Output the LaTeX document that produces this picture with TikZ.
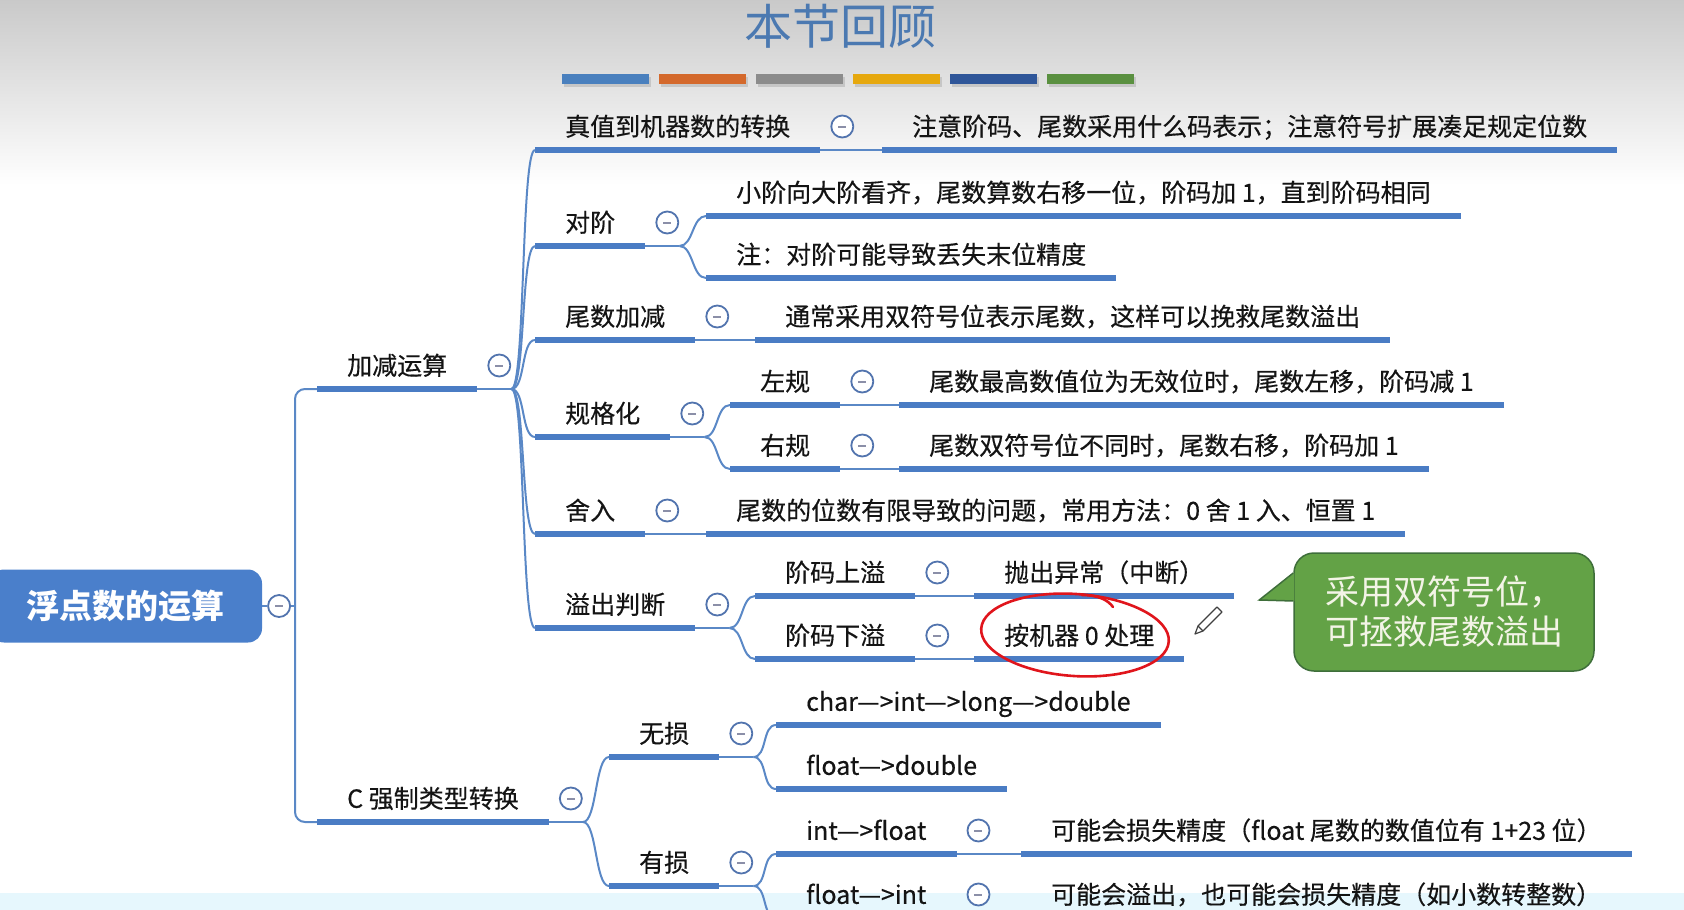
\documentclass[tikz,border=0pt]{standalone}
\usepackage{fontspec}
\setmainfont{Noto Sans CJK SC}
\newfontfamily\mapfont{Noto Sans CJK SC}[FakeBold=0.4]
\usetikzlibrary{positioning,calc}

\definecolor{mapblue}{HTML}{4A7CC4}
\definecolor{linkblue}{HTML}{5A88C6}
\definecolor{rootblue}{HTML}{4A7FCB}
\definecolor{foldring}{HTML}{5274AE}
\definecolor{foldbar}{HTML}{8B8FA8}
\definecolor{titleblue}{HTML}{4B79B1}
\definecolor{notegreen}{HTML}{63A246}
\definecolor{noteedge}{HTML}{3E6E3A}
\definecolor{notetext}{HTML}{F3F4E6}
\definecolor{markred}{HTML}{E0151C}
\definecolor{barblue}{HTML}{4A80BE}
\definecolor{barorange}{HTML}{D4692C}
\definecolor{bargray}{HTML}{8C8C8C}
\definecolor{bargold}{HTML}{E6A80E}
\definecolor{barnavy}{HTML}{2F5699}
\definecolor{bargreen}{HTML}{5A9040}

\begin{document}
\begin{tikzpicture}[
  x=1pt, y=-1pt,
  uline/.style={draw=mapblue, line width=5.5pt},
  link/.style={draw=linkblue, line width=2pt},
  topic/.style={anchor=south west, inner xsep=30pt, inner ysep=8pt,
    text height=20pt, text depth=6pt, text=black!92,
    font=\mapfont\fontsize{25}{30}\selectfont,
    append after command={(\tikzlastnode.south west) edge[uline] (\tikzlastnode.south east)}},
  fold/.style={circle, draw=foldring, fill=white, line width=1.8pt,
    minimum size=22pt, inner sep=0pt,
    path picture={\draw[line width=2pt, draw=foldbar]
      ([xshift=-4pt]path picture bounding box.center) --
      ([xshift=4pt]path picture bounding box.center);}},
  rootbox/.style={fill=rootblue, rounded corners=14pt, minimum width=272pt,
    minimum height=73pt, text=white,
    font=\fontsize{33}{40}\selectfont\bfseries},
  notebox/.style={fill=notegreen, draw=noteedge, line width=1.5pt,
    rounded corners=20pt, minimum width=300pt, minimum height=118pt,
    text=notetext, align=left, font=\fontsize{34}{40}\selectfont}
]
\useasboundingbox (0,0) rectangle (1684,910);
\clip (0,0) rectangle (1684,910);

% background
\shade[top color=gray!42, bottom color=white] (0,0) rectangle (1684,185);
\fill[cyan!10] (0,893) rectangle (1684,910);

% title and colour bars
\node[font=\fontsize{48}{52}\selectfont, text=titleblue] (title) at (840,26) {本节回顾};
\foreach \c [count=\i from 0] in {barblue,barorange,bargray,bargold,barnavy,bargreen}{
  \fill[gray!45] ({564+97*\i},77) rectangle ++(87,10);
  \fill[\c] ({562+97*\i},74) rectangle ++(87,10);
}

% root
\node[rootbox] (root) at (126,606) {浮点数的运算};
\node[fold, right=5pt of root] (rootF) {};
\coordinate (trunk) at (295,606);

% first level
\node[topic] (jiajian) at (317,389) {加减运算};
\node[topic] (ctype) at (317,822) {C 强制类型转换};

% 加减运算
\node[topic] (zhenzhi) at (535,150) {真值到机器数的转换};
\node[topic] (zhenzhiL) at (882,150) {注意阶码、尾数采用什么码表示；注意符号扩展凑足规定位数};
\node[topic] (duijie) at (535,246) {对阶};
\node[topic] (duijieL1) at (706,216) {小阶向大阶看齐，尾数算数右移一位，阶码加 1，直到阶码相同};
\node[topic] (duijieL2) at (706,278) {注：对阶可能导致丢失末位精度};
\node[topic] (weishu) at (535,340) {尾数加减};
\node[topic] (weishuL) at (755,340) {通常采用双符号位表示尾数，这样可以挽救尾数溢出};
\node[topic] (guige) at (535,437) {规格化};
\node[topic] (zuogui) at (730,405) {左规};
\node[topic] (zuoguiL) at (899,405) {尾数最高数值位为无效位时，尾数左移，阶码减 1};
\node[topic] (yougui) at (730,469) {右规};
\node[topic] (youguiL) at (899,469) {尾数双符号位不同时，尾数右移，阶码加 1};
\node[topic] (sheru) at (535,534) {舍入};
\node[topic] (sheruL) at (706,534) {尾数的位数有限导致的问题，常用方法：0 舍 1 入、恒置 1};
\node[topic] (yichu) at (535,628) {溢出判断};
\node[topic] (shangyi) at (755,596) {阶码上溢};
\node[topic] (shangyiL) at (974,596) {抛出异常（中断）};
\node[topic] (xiayi) at (755,659) {阶码下溢};
\node[topic] (xiayiL) at (974,659) {按机器 0 处理};

% C 强制类型转换
\node[topic] (wusun) at (609,757) {无损};
\node[topic] (wusunL1) at (776,725) {char—>int—>long—>double};
\node[topic] (wusunL2) at (776,789) {float—>double};
\node[topic] (yousun) at (609,886) {有损};
\node[topic] (int2float) at (776,854) {int—>float};
\node[topic] (int2floatL) at (1021,854) {可能会损失精度（float 尾数的数值位有 1+23 位）};
\node[topic] (float2int) at (776,918) {float—>int};
\node[topic] (float2intL) at (1021,918) {可能会溢出，也可能会损失精度（如小数转整数）};

% connectors
\draw[link] (root) -- (rootF);
\draw[link] (rootF) -- (trunk);
\draw[link, rounded corners=10pt] (jiajian.south west) -| (trunk) |- (ctype.south west);

\draw[link] (jiajian.south east) -- ++(34,0) coordinate (jiajianB);
\foreach \t in {zhenzhi,duijie,weishu,guige,sheru,yichu}
  \draw[link] (jiajianB) .. controls +(14,0) and +(-14,0) .. (\t.south west);
\draw[link] (duijie.south east) -- ++(34,0) coordinate (duijieB);
\foreach \t in {duijieL1,duijieL2}
  \draw[link] (duijieB) .. controls +(14,0) and +(-14,0) .. (\t.south west);
\draw[link] (guige.south east) -- ++(34,0) coordinate (guigeB);
\foreach \t in {zuogui,yougui}
  \draw[link] (guigeB) .. controls +(14,0) and +(-14,0) .. (\t.south west);
\draw[link] (yichu.south east) -- ++(34,0) coordinate (yichuB);
\foreach \t in {shangyi,xiayi}
  \draw[link] (yichuB) .. controls +(14,0) and +(-14,0) .. (\t.south west);
\draw[link] (ctype.south east) -- ++(34,0) coordinate (ctypeB);
\foreach \t in {wusun,yousun}
  \draw[link] (ctypeB) .. controls +(14,0) and +(-14,0) .. (\t.south west);
\draw[link] (wusun.south east) -- ++(34,0) coordinate (wusunB);
\foreach \t in {wusunL1,wusunL2}
  \draw[link] (wusunB) .. controls +(14,0) and +(-14,0) .. (\t.south west);
\draw[link] (yousun.south east) -- ++(34,0) coordinate (yousunB);
\foreach \t in {int2float,float2int}
  \draw[link] (yousunB) .. controls +(14,0) and +(-14,0) .. (\t.south west);

\draw[link] (zhenzhi.south east) -- (zhenzhiL.south west);
\draw[link] (weishu.south east) -- (weishuL.south west);
\draw[link] (zuogui.south east) -- (zuoguiL.south west);
\draw[link] (yougui.south east) -- (youguiL.south west);
\draw[link] (sheru.south east) -- (sheruL.south west);
\draw[link] (shangyi.south east) -- (shangyiL.south west);
\draw[link] (xiayi.south east) -- (xiayiL.south west);
\draw[link] (int2float.south east) -- (int2floatL.south west);
\draw[link] (float2int.south east) -- (float2intL.south west);

% fold buttons
\foreach \t in {jiajian,ctype,zhenzhi,duijie,weishu,guige,zuogui,yougui,sheru,
    yichu,shangyi,xiayi,wusun,yousun,int2float,float2int}
  \node[fold, right=10pt of \t.south east, yshift=23.5pt] (\t F) {};

% note
\node[notebox] (note) at (1444,612) {采用双符号位，\\可拯救尾数溢出};
\coordinate (notetip) at ($(note.west)+(-34,-12)$);
\fill[notegreen] (notetip) -- ($(note.west)+(1,-39)$) -- ($(note.west)+(1,-11)$) -- cycle;
\draw[noteedge, line width=1.5pt] ($(note.west)+(0,-39)$) -- (notetip) -- ($(note.west)+(0,-11)$);

% hand marks
\draw[markred, line width=2.6pt, rotate around={-4:(1075,635)}]
  (1075,635) ellipse [x radius=94, y radius=41];
\draw[markred, line width=2.6pt, line cap=round]
  (1082,595) .. controls (1098,595) and (1108,600) .. (1113,607);
\draw[draw=black!75, fill=white, line width=1.2pt, line join=round]
  (1195,634) -- (1203,631) -- (1222,612) -- (1217,607) -- (1198,626) -- cycle;
\draw[draw=black!75, line width=1.2pt] (1198,626) -- (1203,631);
\end{tikzpicture}
\end{document}
